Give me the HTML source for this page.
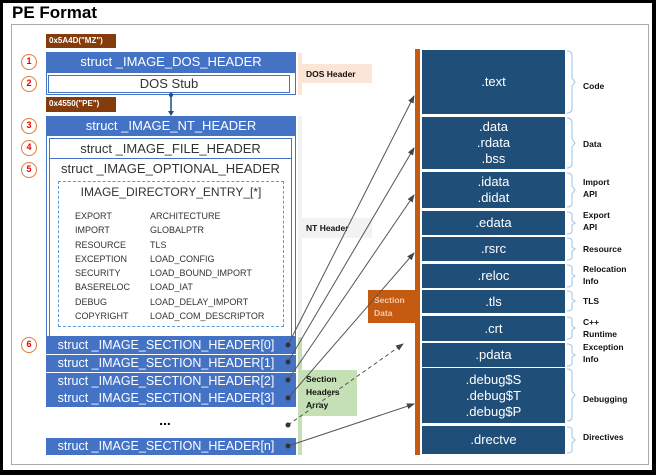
<!DOCTYPE html>
<html><head><meta charset="utf-8"><style>
body{margin:0;width:656px;height:475px;background:#000;overflow:hidden;font-family:"Liberation Sans",sans-serif}
#pg{position:absolute;left:3px;top:3px;width:649px;height:467px;background:#fff}
.a{position:absolute;box-sizing:border-box}
.bar{background:#4472c4;color:#fff;font-size:13px;text-align:center;line-height:18px}
.dk{background:#1f4e79;color:#fff;font-size:13px;text-align:center;display:flex;flex-direction:column;justify-content:center;line-height:16px}
.br{background:#843c0c;color:#fff;font-size:8px;font-weight:bold;line-height:14px;padding-left:3px}
.c{width:16px;height:16px;border:1.5px solid #e07a3a;border-radius:50%;color:#e00;font-size:9px;font-weight:bold;text-align:center;line-height:13px;background:#fff}
.lb{font-size:8.5px;font-weight:bold;color:#111;line-height:12px}
.t{font-size:9px;color:#333;position:absolute}
</style></head><body><div id="pg"></div>
<div class="a" style="left:12px;top:3px;font-size:17px;font-weight:bold;color:#000">PE Format</div>
<div class="a" style="left:11px;top:24px;width:638px;height:441px;border:1px solid #aaa"></div>

<div class="a br" style="left:46px;top:34px;width:70px;height:14px">0x5A4D("MZ")</div>
<div class="a bar" style="left:46px;top:52px;width:250px;height:20px;line-height:20px">struct _IMAGE_DOS_HEADER</div>
<div class="a" style="left:46px;top:72px;width:250px;height:23px;border:1px solid #4472c4"></div>
<div class="a" style="left:48px;top:75px;width:242px;height:18px;border:1px solid #4472c4;font-size:13px;text-align:center;line-height:16px;color:#333">DOS Stub</div>
<div class="a br" style="left:46px;top:97px;width:70px;height:15px">0x4550("PE")</div>
<div class="a bar" style="left:46px;top:116px;width:250px;height:20px;line-height:20px">struct _IMAGE_NT_HEADER</div>
<div class="a" style="left:46px;top:136px;width:250px;height:201px;border:1px solid #4472c4;border-top:none"></div>
<div class="a" style="left:49px;top:138px;width:243px;height:199px;border:1px solid #4472c4;border-bottom:none"></div>
<div class="a" style="left:49px;top:138px;width:243px;height:21px;border:1px solid #4472c4;font-size:13px;text-align:center;line-height:19px;color:#333">struct _IMAGE_FILE_HEADER</div>
<div class="a" style="left:49px;top:161px;width:243px;font-size:13px;text-align:center;color:#333">struct _IMAGE_OPTIONAL_HEADER</div>
<div class="a" style="left:58px;top:181px;width:226px;height:146px;border:1px dashed #5b9bd5"></div>
<div class="a" style="left:58px;top:185px;width:226px;font-size:12px;text-align:center;color:#333">IMAGE_DIRECTORY_ENTRY_[*]</div>
<div class="t" style="left:75px;top:209px;line-height:14.3px">EXPORT<br>IMPORT<br>RESOURCE<br>EXCEPTION<br>SECURITY<br>BASERELOC<br>DEBUG<br>COPYRIGHT</div>
<div class="t" style="left:150px;top:209px;line-height:14.3px">ARCHITECTURE<br>GLOBALPTR<br>TLS<br>LOAD_CONFIG<br>LOAD_BOUND_IMPORT<br>LOAD_IAT<br>LOAD_DELAY_IMPORT<br>LOAD_COM_DESCRIPTOR</div>

<div class="a bar" style="left:46px;top:337px;width:250px;height:17px;line-height:17px;padding-right:10px;font-size:12.5px">struct _IMAGE_SECTION_HEADER[0]</div>
<div class="a bar" style="left:46px;top:355px;width:250px;height:17px;line-height:17px;padding-right:10px;font-size:12.5px">struct _IMAGE_SECTION_HEADER[1]</div>
<div class="a bar" style="left:46px;top:373px;width:250px;height:17px;line-height:17px;padding-right:10px;font-size:12.5px">struct _IMAGE_SECTION_HEADER[2]</div>
<div class="a bar" style="left:46px;top:390px;width:250px;height:17px;line-height:17px;padding-right:10px;font-size:12.5px">struct _IMAGE_SECTION_HEADER[3]</div>
<div class="a" style="left:150px;top:412px;width:30px;font-size:14px;font-weight:bold;text-align:center">...</div>
<div class="a bar" style="left:46px;top:438px;width:250px;height:17px;line-height:17px;padding-right:10px;font-size:12.5px">struct _IMAGE_SECTION_HEADER[n]</div>

<div class="a c" style="left:21px;top:54px">1</div>
<div class="a c" style="left:21px;top:76px">2</div>
<div class="a c" style="left:21px;top:118px">3</div>
<div class="a c" style="left:21px;top:140px">4</div>
<div class="a c" style="left:21px;top:162px">5</div>
<div class="a c" style="left:21px;top:337px">6</div>

<div class="a" style="left:298px;top:53px;width:4px;height:42px;background:#fbe5d6"></div>
<div class="a lb" style="left:302px;top:64px;width:70px;height:19px;background:#fbe5d6;padding:4px 0 0 4px">DOS Header</div>
<div class="a" style="left:298px;top:116px;width:4px;height:220px;background:#f2f2f2"></div>
<div class="a lb" style="left:302px;top:218px;width:70px;height:20px;background:#f2f2f2;padding:4px 0 0 4px">NT Header</div>
<div class="a" style="left:298px;top:337px;width:4px;height:118px;background:#c5e0b4"></div>
<div class="a lb" style="left:302px;top:370px;width:55px;height:46px;background:#c5e0b4;padding:3px 0 0 4px;line-height:13px">Section<br>Headers<br>Array</div>

<div class="a" style="left:415px;top:49px;width:5px;height:406px;background:#c55a11"></div>
<div class="a" style="left:368px;top:290px;width:48px;height:33px;background:#c55a11;color:#f8cbad;font-size:8.5px;font-weight:bold;padding:4px 0 0 6px;line-height:13px">Section<br>Data</div>

<div class="a dk" style="left:422px;top:50px;width:143px;height:64px">.text</div>
<div class="a dk" style="left:422px;top:117px;width:143px;height:52px">.data<br>.rdata<br>.bss</div>
<div class="a dk" style="left:422px;top:172px;width:143px;height:36px">.idata<br>.didat</div>
<div class="a dk" style="left:422px;top:211px;width:143px;height:24px">.edata</div>
<div class="a dk" style="left:422px;top:237px;width:143px;height:24px">.rsrc</div>
<div class="a dk" style="left:422px;top:264px;width:143px;height:24px">.reloc</div>
<div class="a dk" style="left:422px;top:290px;width:143px;height:23px">.tls</div>
<div class="a dk" style="left:422px;top:316px;width:143px;height:25px">.crt</div>
<div class="a dk" style="left:422px;top:343px;width:143px;height:24px">.pdata</div>
<div class="a dk" style="left:422px;top:368px;width:143px;height:55px">.debug$S<br>.debug$T<br>.debug$P</div>
<div class="a dk" style="left:422px;top:426px;width:143px;height:28px">.drectve</div>

<div class="a lb" style="left:583px;top:80px">Code</div>
<div class="a lb" style="left:583px;top:138px">Data</div>
<div class="a lb" style="left:583px;top:176px">Import<br>API</div>
<div class="a lb" style="left:583px;top:209px">Export<br>API</div>
<div class="a lb" style="left:583px;top:243px">Resource</div>
<div class="a lb" style="left:583px;top:263px">Relocation<br>Info</div>
<div class="a lb" style="left:583px;top:295px">TLS</div>
<div class="a lb" style="left:583px;top:316px">C++<br>Runtime</div>
<div class="a lb" style="left:583px;top:341px">Exception<br>Info</div>
<div class="a lb" style="left:583px;top:393px">Debugging</div>
<div class="a lb" style="left:583px;top:431px">Directives</div>

<svg class="a" style="left:0;top:0" width="656" height="475">
<defs><marker id="m" markerWidth="8" markerHeight="8" refX="7" refY="4" orient="auto" markerUnits="userSpaceOnUse"><path d="M0,1 L8,4 L0,7z" fill="#444"/></marker></defs>
<g fill="none" stroke="#9dc3e6" stroke-width="1">
<path d="M567,51 q5,0 5,5 v22 l3,4 l-3,4 v22 q0,5 -5,5"/>
<path d="M567,118 q5,0 5,5 v16 l3,4 l-3,4 v16 q0,5 -5,5"/>
<path d="M567,173 q5,0 5,4 v9 l3,4 l-3,4 v9 q0,4 -5,4"/>
<path d="M567,212 q5,0 5,3 v6 l3,2 l-3,2 v6 q0,3 -5,3"/>
<path d="M567,238 q5,0 5,3 v6 l3,2 l-3,2 v6 q0,3 -5,3"/>
<path d="M567,265 q5,0 5,3 v6 l3,2 l-3,2 v6 q0,3 -5,3"/>
<path d="M567,291 q5,0 5,3 v5 l3,2 l-3,2 v5 q0,3 -5,3"/>
<path d="M567,317 q5,0 5,3 v6 l3,2 l-3,2 v6 q0,3 -5,3"/>
<path d="M567,344 q5,0 5,3 v6 l3,2 l-3,2 v6 q0,3 -5,3"/>
<path d="M567,369 q5,0 5,4 v18 l3,4 l-3,4 v18 q0,4 -5,4"/>
<path d="M567,427 q5,0 5,3 v7 l3,3 l-3,3 v7 q0,3 -5,3"/>
</g>
<line x1="171" y1="95" x2="171" y2="114" stroke="#1f4e79" stroke-width="1.5"/>
<circle cx="171" cy="95" r="2" fill="#1f4e79"/>
<path d="M168,111 L171,116 L174,111z" fill="#1f4e79"/>
<g stroke="#555" stroke-width="1" marker-end="url(#m)">
<line x1="288" y1="345" x2="414" y2="96"/>
<line x1="288" y1="362" x2="414" y2="148"/>
<line x1="288" y1="380" x2="414" y2="195"/>
<line x1="288" y1="398" x2="414" y2="253"/>
<line x1="288" y1="425" x2="403" y2="344" stroke-dasharray="4,3"/>
<line x1="288" y1="446" x2="414" y2="404"/>
</g>
<g fill="#333"><circle cx="288" cy="345" r="2.5"/><circle cx="288" cy="362" r="2.5"/><circle cx="288" cy="380" r="2.5"/><circle cx="288" cy="398" r="2.5"/><circle cx="288" cy="425" r="2.5"/><circle cx="288" cy="446" r="2.5"/></g>
</svg>
</body></html>
